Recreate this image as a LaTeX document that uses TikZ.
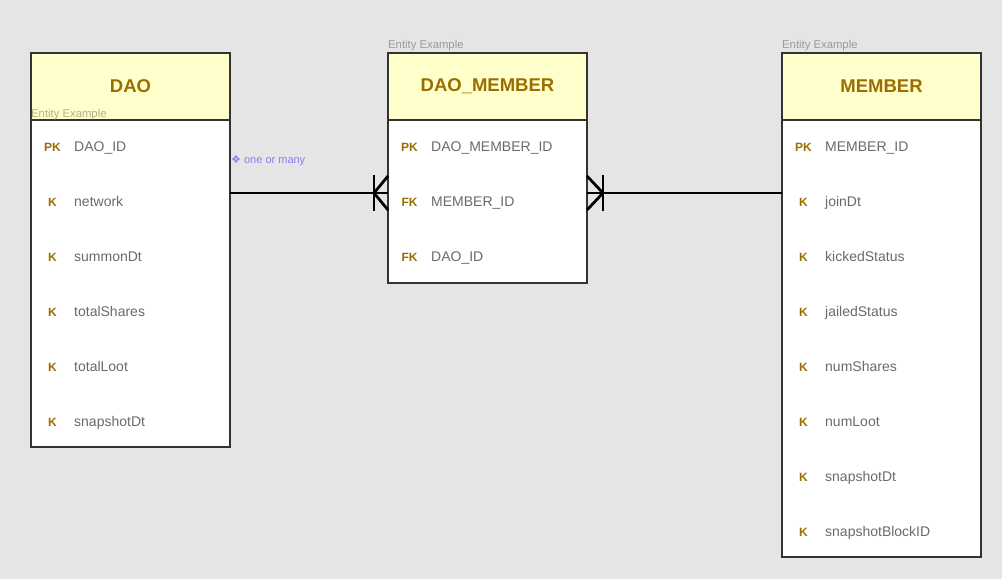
\documentclass[tikz,border=0pt]{standalone}
\usepackage{fontspec}
\setmainfont{Liberation Sans}
\newfontfamily\symfont{DejaVu Sans}
\usetikzlibrary{positioning}
\definecolor{bg}{HTML}{E5E5E5}
\definecolor{headfill}{HTML}{FFFFCC}
\definecolor{gold}{HTML}{9A6E00}
\definecolor{fieldgray}{HTML}{6A6A6A}
\definecolor{notegray}{HTML}{9A9A9A}
\definecolor{noteolive}{HTML}{B3AE8C}
\definecolor{linkpurple}{HTML}{8C7CF4}
\begin{document}
\begin{tikzpicture}[x=1pt,y=-1pt,
    head/.style = {draw=black!80, line width=1.1pt, fill=headfill, text=gold,
      minimum width=199pt, minimum height=67pt, inner sep=0pt, outer sep=0pt,
      anchor=north west, font=\bfseries\fontsize{18.5}{21}\selectfont},
    body/.style = {draw=black!80, line width=1.1pt, fill=white,
      minimum width=199pt, inner sep=0pt, outer sep=0pt},
    key/.style = {text=gold, inner sep=0pt, text height=1.5ex, text depth=.25ex,
      font=\bfseries\fontsize{12}{14}\selectfont},
    field/.style = {text=fieldgray, inner sep=0pt, anchor=west, text height=1.5ex,
      text depth=.25ex, font=\fontsize{14}{17}\selectfont},
    note/.style = {text=notegray, inner sep=0pt, anchor=base west,
      font=\fontsize{11.3}{13}\selectfont},
    link/.style = {line width=2.8pt, black}]
  \fill[bg] (0,0) rectangle (1002,579);
  \useasboundingbox (0,0) rectangle (1002,579);
  % entities
  \node[head] (dao) at (31,53) {DAO};
  \node[body, minimum height=327pt, below=0pt of dao] (daob) {};
  \node[head] (dm) at (388,53) {DAO\_MEMBER};
  \node[body, minimum height=163pt, below=0pt of dm] (dmb) {};
  \node[head] (mem) at (782,53) {MEMBER};
  \node[body, minimum height=437pt, below=0pt of mem] (memb) {};
  \node[note, text=noteolive] (daonote) at (31,117) {Entity Example};
  \node[note] (dmnote) at (388,48) {Entity Example};
  \node[note] (memnote) at (782,48) {Entity Example};
  % attributes
  \foreach \k/\f [count=\i] in {PK/DAO\_ID, K/network, K/summonDt,
      K/totalShares, K/totalLoot, K/snapshotDt} {
    \node[key] (dao-k\i) at (52.5,148.5+55*\i-55) {\k};
    \node[field] (dao-f\i) at (74,148.5+55*\i-55) {\f};
  }
  \foreach \k/\f [count=\i] in {PK/DAO\_MEMBER\_ID, FK/MEMBER\_ID, FK/DAO\_ID} {
    \node[key] (dm-k\i) at (409.5,148.5+55*\i-55) {\k};
    \node[field] (dm-f\i) at (431,148.5+55*\i-55) {\f};
  }
  \foreach \k/\f [count=\i] in {PK/MEMBER\_ID, K/joinDt, K/kickedStatus,
      K/jailedStatus, K/numShares, K/numLoot, K/snapshotDt, K/snapshotBlockID} {
    \node[key] (mem-k\i) at (803.5,148.5+55*\i-55) {\k};
    \node[field] (mem-f\i) at (825,148.5+55*\i-55) {\f};
  }
  % relations
  \coordinate (lk) at (0,193);
  \coordinate (dmin) at (dmb.west |- lk);
  \coordinate (dmout) at (dmb.east |- lk);
  \draw[link] (daob.east |- lk) -- (dmin);
  \draw[link] (dmin) +(-14,-18) -- +(-14,18);
  \draw[link] (dmin) +(0,-17) -- +(-14,0) -- +(0,17);
  \draw[link] (dmout) -- (memb.west |- lk);
  \draw[link] (dmout) +(16,-18) -- +(16,18);
  \draw[link] (dmout) +(0,-17) -- +(16,0) -- +(0,17);
  \node[anchor=west, inner sep=0pt, text=linkpurple, font=\fontsize{11}{13}\selectfont]
    (card) at (231,161) {{\symfont\fontsize{11}{12}\selectfont ❖} one or many};
\end{tikzpicture}
\end{document}
